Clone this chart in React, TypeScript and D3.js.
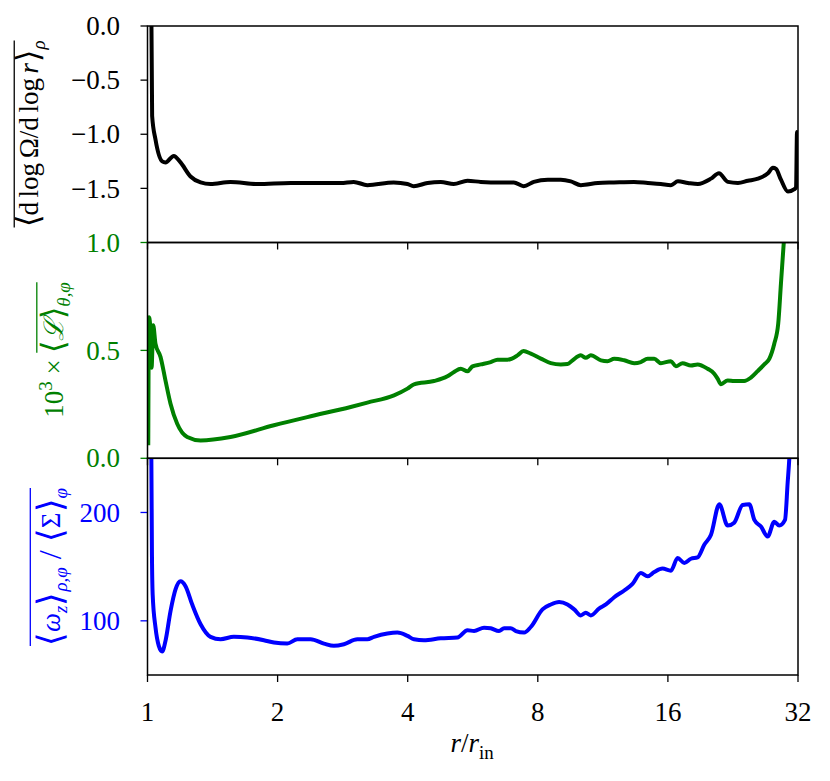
import React, { useEffect, useRef } from 'react';
import * as d3 from 'd3';

const W = 830;
const H = 781;

const xTicks = [1, 2, 4, 8, 16, 32];
const omegaTicks = [0, -0.5, -1.0, -1.5];
const lTicks = [0, 0.5, 1.0];
const vortTicks = [100, 200];

// Panel 1: <d log Omega / d log r>_rho
const rOmega = [1.02, 1.025, 1.0436, 1.0815, 1.1006, 1.1503, 1.1925, 1.2576, 1.327, 1.399, 1.556, 1.795, 2.144, 2.799, 3.0, 3.227, 3.712, 3.995, 4.13, 4.445, 4.77, 5.11, 5.5, 5.905, 6.57, 7.04, 7.42, 7.83, 8.44, 9.04, 9.54, 10.06, 11.02, 12.0, 13.35, 14.38, 15.41, 16.26, 16.88, 17.8, 18.78, 20.13, 21.0, 22.03, 23.24, 24.5, 25.85, 27.27, 28.0, 28.46, 29.22, 30.33, 31.32, 31.67, 31.83, 31.92, 32];
const vOmega = [0.3, -0.83, -1.05, -1.25, -1.26, -1.2, -1.26, -1.39, -1.445, -1.46, -1.44, -1.46, -1.45, -1.45, -1.44, -1.47, -1.445, -1.46, -1.48, -1.45, -1.44, -1.46, -1.43, -1.44, -1.445, -1.445, -1.48, -1.44, -1.42, -1.42, -1.435, -1.47, -1.45, -1.445, -1.44, -1.45, -1.46, -1.47, -1.435, -1.45, -1.46, -1.41, -1.36, -1.44, -1.45, -1.43, -1.41, -1.36, -1.31, -1.32, -1.42, -1.53, -1.51, -1.49, -0.98, -1.35, -0.99];

// Panel 2: 10^3 x <L>_{theta,phi}
const rL = [1.004, 1.008, 1.014, 1.022, 1.031, 1.0436, 1.0718, 1.1006, 1.1305, 1.1714, 1.2354, 1.327, 1.556, 1.961, 2.343, 2.952, 3.227, 3.719, 3.995, 4.136, 4.602, 4.942, 5.12, 5.307, 5.5, 5.649, 5.905, 6.225, 6.452, 6.807, 7.18, 7.413, 7.706, 8.13, 8.574, 9.044, 9.37, 9.627, 10.06, 10.33, 10.61, 11.2, 11.6, 12.02, 12.68, 13.37, 13.85, 14.36, 14.88, 15.41, 16.26, 16.7, 17.3, 18.09, 18.74, 19.77, 20.48, 20.85, 21.23, 22.0, 22.78, 24.03, 24.9, 25.81, 26.74, 27.46, 28.2, 28.8, 29.22, 29.65, 30.02];
const vL = [0.06, 0.654, 0.62, 0.42, 0.616, 0.53, 0.47, 0.36, 0.253, 0.16, 0.099, 0.083, 0.099, 0.153, 0.191, 0.238, 0.258, 0.292, 0.323, 0.343, 0.358, 0.38, 0.4, 0.415, 0.403, 0.426, 0.435, 0.446, 0.457, 0.457, 0.477, 0.497, 0.485, 0.462, 0.441, 0.435, 0.437, 0.454, 0.477, 0.466, 0.477, 0.454, 0.45, 0.461, 0.454, 0.441, 0.446, 0.461, 0.461, 0.441, 0.45, 0.426, 0.441, 0.43, 0.435, 0.415, 0.392, 0.369, 0.343, 0.361, 0.358, 0.358, 0.374, 0.404, 0.435, 0.461, 0.531, 0.624, 0.809, 0.994, 1.15];

// Panel 3: <omega_z>_{rho,phi} / <Sigma>_phi
const rVort = [1.02, 1.024, 1.028, 1.0436, 1.062, 1.0815, 1.1006, 1.1305, 1.161, 1.1925, 1.2245, 1.269, 1.327, 1.399, 1.476, 1.584, 1.702, 1.859, 1.961, 2.106, 2.222, 2.385, 2.56, 2.7, 2.848, 3.059, 3.227, 3.343, 3.59, 3.786, 3.995, 4.136, 4.362, 4.77, 5.213, 5.5, 5.697, 6.008, 6.225, 6.507, 6.685, 6.926, 7.115, 7.439, 7.706, 8.203, 8.574, 8.963, 9.37, 9.71, 10.06, 10.33, 10.61, 11.1, 11.5, 12.02, 12.68, 13.25, 13.85, 14.36, 14.88, 15.55, 16.26, 16.85, 17.46, 18.09, 18.74, 19.42, 20.13, 21.04, 22.0, 22.78, 23.83, 24.69, 25.36, 26.27, 27.22, 28.2, 28.96, 29.86, 30.29, 30.55, 30.75];
const vVort = [270, 161, 124, 93.8, 76.9, 71.7, 81.5, 109, 129, 136.5, 132, 115, 96.8, 85.2, 83, 85.2, 84.6, 82.1, 80, 79, 83, 83, 79, 76.9, 78.4, 83, 83, 85.2, 88.3, 89.2, 86.1, 83, 82.1, 83.9, 84.6, 91.3, 90.6, 93.7, 93.1, 90.6, 93.1, 93.1, 90.6, 89.2, 94.3, 110.6, 115.1, 117.3, 115.1, 110.6, 105, 107.5, 105, 111.5, 115.1, 121.8, 128, 134.1, 144.2, 141.1, 145.1, 148.2, 146.3, 158, 153.4, 157.3, 158.5, 170.2, 179.4, 207.5, 187.9, 190.6, 206.9, 207.5, 193.1, 187, 177.8, 191.5, 187.9, 193.1, 228, 249.7, 275];

type Run = { t?: string; it?: boolean; sub?: boolean; sup?: boolean; ol?: boolean; sp?: number; scale?: number };

const FONT = 'Liberation Serif';

function drawMath(parent: any, runs: Run[], fs: number, color: string, cx: number, cy: number, rotate: boolean, olOff: number) {
  const g = parent.append('g');
  let x = 0;
  let olMin = Infinity;
  let olMax = -Infinity;
  for (const r of runs) {
    if (r.sp !== undefined) {
      if (r.ol) { olMin = Math.min(olMin, x); olMax = Math.max(olMax, x + r.sp * fs); }
      x += r.sp * fs;
      continue;
    }
    const size = (r.sub || r.sup ? fs * 0.7 : fs) * (r.scale || 1);
    const dy = r.sub ? fs * 0.25 : r.sup ? -fs * 0.42 : (r.scale ? fs * 0.25 * (r.scale - 1) : 0);
    const t = g.append('text')
      .attr('x', x).attr('y', dy)
      .attr('font-size', size)
      .attr('font-family', FONT)
      .attr('font-style', r.it ? 'italic' : 'normal')
      .attr('fill', color)
      .text(r.t || '');
    const w = (t.node() as SVGTextElement).getComputedTextLength();
    if (r.ol) { olMin = Math.min(olMin, x); olMax = Math.max(olMax, x + w); }
    x += w;
  }
  if (olMin < olMax) {
    g.append('line').attr('x1', olMin).attr('x2', olMax)
      .attr('y1', -fs * olOff).attr('y2', -fs * olOff)
      .attr('stroke', color).attr('stroke-width', 1.3);
  }
  const total = x;
  g.attr('transform', rotate
    ? `translate(${cx},${cy}) rotate(-90) translate(${-total / 2},0)`
    : `translate(${cx - total / 2},${cy})`);
}

export default function App() {
  const ref = useRef<SVGSVGElement | null>(null);

  useEffect(() => {
    const svg = d3.select(ref.current);
    svg.selectAll('*').remove();

    const left = 147.5;
    const right = 798;
    const x = d3.scaleLog().base(2).domain([1, 32]).range([left, right]);

    const panels = [
      { top: 26, bottom: 242.5, y: d3.scaleLinear().domain([-2, 0]).range([242.5, 26]), r: rOmega, v: vOmega, color: '#000000', ticks: omegaTicks, fmt: (d: number) => d3.format('.1f')(d).replace('-', '\u2212') },
      { top: 242.5, bottom: 458.3, y: d3.scaleLinear().domain([0, 1]).range([458.3, 242.5]), r: rL, v: vL, color: '#008000', ticks: lTicks, fmt: (d: number) => d3.format('.1f')(d) },
      { top: 458.3, bottom: 675, y: d3.scaleLinear().domain([50, 250]).range([675, 458.3]), r: rVort, v: vVort, color: '#0000ff', ticks: vortTicks, fmt: (d: number) => String(d) },
    ];

    const defs = svg.append('defs');
    panels.forEach((p, i) => {
      defs.append('clipPath').attr('id', `clip${i}`)
        .append('rect').attr('x', left).attr('y', p.top).attr('width', right - left).attr('height', p.bottom - p.top);
    });

    const tickLen = 7;
    const fsTick = 27;

    panels.forEach((p, i) => {
      const data = p.r.map((r, k) => [r, p.v[k]] as [number, number]);
      const line = d3.line<[number, number]>()
        .x(d => x(d[0]))
        .y(d => p.y(d[1]))
        .curve(d3.curveMonotoneX);
      svg.append('path')
        .attr('d', line(data) || '')
        .attr('fill', 'none')
        .attr('stroke', p.color)
        .attr('stroke-width', 4)
        .attr('stroke-linejoin', 'round')
        .attr('clip-path', `url(#clip${i})`);
    });

    panels.forEach((p) => {
      p.ticks.forEach(t => {
        const yy = p.y(t);
        svg.append('line').attr('x1', left - tickLen).attr('x2', left).attr('y1', yy).attr('y2', yy)
          .attr('stroke', p.color).attr('stroke-width', 1.3);
        svg.append('text').attr('x', 120).attr('y', yy).attr('dy', '0.34em')
          .attr('text-anchor', 'end').attr('font-size', fsTick).attr('font-family', FONT)
          .attr('fill', p.color).text(p.fmt(t));
      });
      xTicks.forEach(t => {
        svg.append('line').attr('x1', x(t)).attr('x2', x(t)).attr('y1', p.bottom).attr('y2', p.bottom + tickLen)
          .attr('stroke', '#000').attr('stroke-width', 1.3);
      });
      svg.append('rect').attr('x', left).attr('y', p.top).attr('width', right - left).attr('height', p.bottom - p.top)
        .attr('fill', 'none').attr('stroke', '#000').attr('stroke-width', 1.5);
    });

    xTicks.forEach(t => {
      svg.append('text').attr('x', x(t)).attr('y', 721)
        .attr('text-anchor', 'middle').attr('font-size', fsTick).attr('font-family', FONT)
        .attr('fill', '#000').text(String(t));
    });

    drawMath(svg, [
      { t: 'r', it: true }, { t: '/' }, { t: 'r', it: true }, { t: 'in', sub: true },
    ], 27, '#000', 472, 752, false, 1);

    drawMath(svg, [
      { t: '\u27E8', ol: true, scale: 1.2 }, { t: 'd', ol: true }, { sp: 0.17, ol: true }, { t: 'log', ol: true }, { sp: 0.17, ol: true },
      { t: '\u03A9', ol: true }, { t: '/', ol: true }, { t: 'd', ol: true }, { sp: 0.17, ol: true }, { t: 'log', ol: true }, { sp: 0.17, ol: true },
      { t: 'r', it: true, ol: true }, { sp: 0.05, ol: true }, { t: '\u27E9', ol: true, scale: 1.2 }, { t: '\u03C1', it: true, sub: true, ol: true },
    ], 27, '#000', 38, 134, true, 0.88);

    drawMath(svg, [
      { t: '10' }, { t: '3', sup: true }, { sp: 0.25 }, { t: '\u00D7' }, { sp: 0.25 },
      { t: '\u27E8', ol: true, scale: 1.2 }, { t: '\u2112', it: true, ol: true }, { t: '\u27E9', ol: true, scale: 1.2 },
      { t: '\u03B8,\u03C6', it: true, sub: true, ol: true },
    ], 27, '#008000', 63, 350, true, 0.97);

    drawMath(svg, [
      { t: '\u27E8', ol: true, scale: 1.3 }, { t: '\u03C9', it: true, ol: true }, { t: 'z', it: true, sub: true, ol: true },
      { t: '\u27E9', ol: true, scale: 1.3 }, { t: '\u03C1,\u03C6', it: true, sub: true, ol: true },
      { sp: 0.3, ol: true }, { t: '/', ol: true, scale: 1.2 }, { sp: 0.3, ol: true },
      { t: '\u27E8', ol: true, scale: 1.3 }, { t: '\u03A3', ol: true }, { t: '\u27E9', ol: true, scale: 1.3 },
      { t: '\u03C6', it: true, sub: true, ol: true },
    ], 27, '#0000ff', 60, 567, true, 1.1);
  }, []);

  return (
    <svg ref={ref} width={W} height={H} style={{ position: 'absolute', left: 0, top: 0, background: '#fff' }} />
  );
}
